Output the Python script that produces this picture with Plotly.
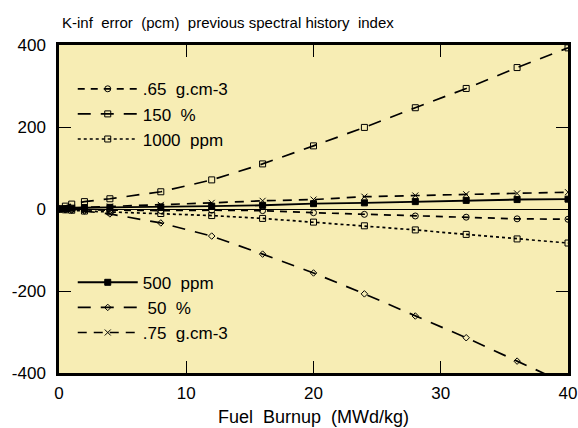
import plotly.graph_objects as go

burnup = [0, 0.5, 1, 2, 4, 8, 12, 16, 20, 24, 28, 32, 36, 40]

d065 = [0, -1, -1, -2, -3, -4, -3, -4, -9, -13, -17, -20, -24, -25]
p150 = [0, 7, 12, 18, 25, 42, 71, 110, 154, 199, 247, 294, 345, 393]
ppm1000 = [0, -2, -3, -5, -7, -11, -16, -23, -32, -41, -51, -62, -73, -83]
ppm500 = [0, 1, 2, 3, 4, 5, 7, 9, 13, 15, 18, 21, 23, 24]
p50 = [0, -2, -3, -5, -12, -34, -66, -110, -156, -207, -261, -314, -371, -428]
d075 = [0, 2, 3, 4, 6, 10, 15, 20, 23, 30, 33, 36, 38, 41]

xticks = [0, 10, 20, 30, 40]
yticks = [-400, -200, 0, 200, 400]
yticklabels = ["-400", "-200", "0", "200", "400"]

names1 = [".65\u00a0 g.cm-3", "150\u00a0 %", "1000\u00a0 ppm"]
names2 = ["500\u00a0 ppm", " 50\u00a0 %", ".75\u00a0 g.cm-3"]

title = "K-inf\u00a0 error\u00a0 (pcm)\u00a0 previous spectral history\u00a0 index"
xtitle = "Fuel\u00a0 Burnup\u00a0 (MWd/kg)"

FONT = "Liberation Sans, Arial, Helvetica, sans-serif"

fig = go.Figure()

def add(y, name, dash, symbol, legend, width=1.7, msize=6):
    fig.add_trace(go.Scatter(
        x=burnup, y=y, name=name, mode="lines+markers",
        line=dict(color="black", width=width, dash=dash),
        marker=dict(symbol=symbol, size=msize, color="black",
                    line=dict(color="black", width=1)),
        legend=legend,
    ))

add(d065, names1[0], "7px,6px", "circle-open", "legend")
add(p150, names1[1], "13px,10px", "square-open", "legend")
add(ppm1000, names1[2], "3px,3px", "square-open", "legend")
add(ppm500, names2[0], "solid", "square", "legend2", width=1.9)
add(p50, names2[1], "13px,10px", "diamond-open", "legend2", msize=5)
add(d075, names2[2], "9px,7px", "x-thin-open", "legend2")

axis_common = dict(
    showline=True, linecolor="black", linewidth=2.5, mirror="ticks",
    ticks="inside", ticklen=12, tickwidth=1, tickcolor="black",
    showgrid=False, automargin=False,
    tickfont=dict(family=FONT, size=17, color="black"),
)

fig.update_layout(
    width=578, height=428,
    margin=dict(l=59, r=10, t=45, b=55),
    paper_bgcolor="white",
    plot_bgcolor="#F7EDB4",
    font=dict(family=FONT, color="black"),
    title=dict(text=title, x=62/578, xanchor="left", y=1-23/428, yanchor="middle",
               font=dict(family=FONT, size=15, color="black"),
               automargin=False),
    xaxis=dict(range=[0, 40], tickvals=xticks, ticklabelstandoff=3,
               title=dict(text=xtitle, font=dict(family=FONT, size=18), standoff=9),
               zeroline=False, **axis_common),
    yaxis=dict(range=[-400, 400], tickvals=yticks, ticktext=yticklabels,
               ticklabelstandoff=7,
               zeroline=True, zerolinecolor="black", zerolinewidth=1,
               **axis_common),
    legend=dict(x=0.027, y=0.92, xanchor="left", yanchor="top",
                bgcolor="rgba(0,0,0,0)", font=dict(family=FONT, size=17),
                tracegroupgap=0, itemwidth=60),
    legend2=dict(x=0.027, y=0.33, xanchor="left", yanchor="top",
                 bgcolor="rgba(0,0,0,0)", font=dict(family=FONT, size=17),
                 tracegroupgap=0, itemwidth=60),
    showlegend=True,
)

fig.write_html("out.html")
